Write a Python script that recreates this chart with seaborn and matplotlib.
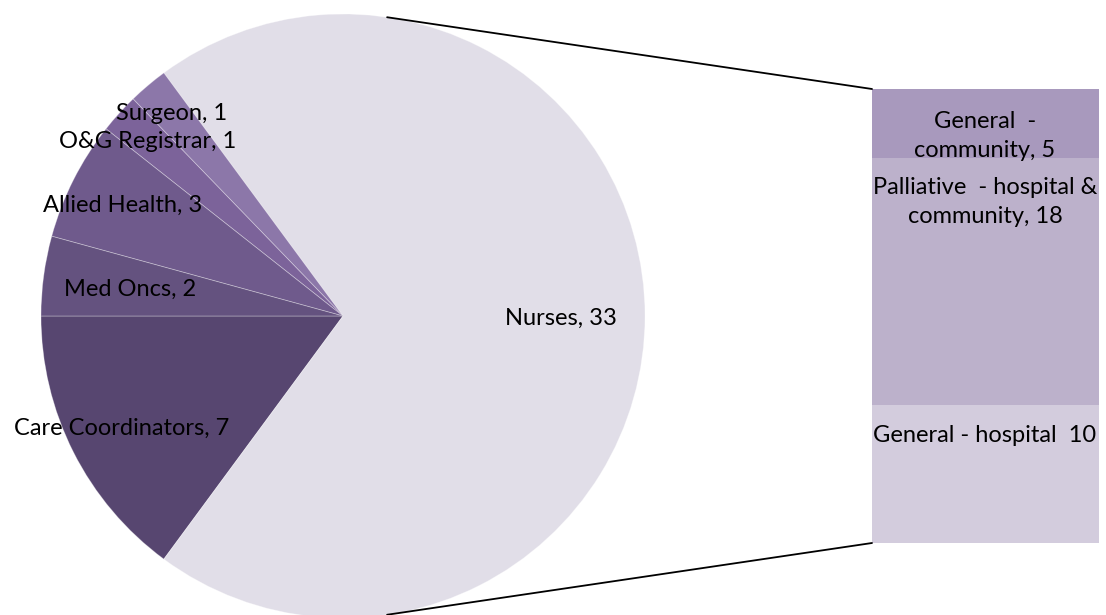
import numpy as np
import matplotlib
matplotlib.use('Agg')
import matplotlib.pyplot as plt
from matplotlib.patches import ConnectionPatch
import seaborn as sns

sns.set_style('white')
plt.rcParams['font.family'] = ['Lato', 'DejaVu Sans']

# main pie (counter-clockwise from 9 o'clock)
pie_labels = ['Care Coordinators', 'Nurses', 'Surgeon', 'O&G Registrar', 'Allied Health', 'Med Oncs']
pie_values = [7, 33, 1, 1, 3, 2]
pie_colors = ['#574670', '#e1dee8', '#8c77a9', '#7c639a', '#6f5a8c', '#64527f']

# breakdown of nurses (bottom to top)
bar_labels = ['General - hospital  10', 'Palliative  - hospital &\ncommunity, 18', 'General  -\ncommunity, 5']
bar_values = [10, 18, 5]
bar_colors = ['#d3ccdd', '#bcb1cb', '#a899bd']

W, H = 1106, 615
fig = plt.figure(figsize=(W / 100, H / 100), dpi=100)

# pie axes, centre (343,316) radius 302 px
cx, cy, r = 343, 316, 302
ax = fig.add_axes([(cx - r) / W, (H - cy - r) / H, 2 * r / W, 2 * r / H])
ax.pie(pie_values, colors=pie_colors, startangle=180, counterclock=True,
       radius=1, wedgeprops=dict(edgecolor=(1, 1, 1, 0.35), linewidth=0.6))
ax.set_xlim(-1, 1)
ax.set_ylim(-1, 1)
ax.set_aspect('auto')
ax.axis('off')

# stacked bar axes
bx0, by0, bx1, by1 = 872, 89, 1099, 543
bax = fig.add_axes([bx0 / W, (H - by1) / H, (bx1 - bx0) / W, (by1 - by0) / H])
bottom = 0
for v, c in zip(bar_values, bar_colors):
    bax.bar(0, v, width=1, bottom=bottom, color=c, linewidth=0)
    bottom += v
bax.set_xlim(-0.5, 0.5)
bax.set_ylim(0, sum(bar_values))
bax.axis('off')

# connector lines (tangent to pie)
ang = np.deg2rad(81.6)
for sgn, yb in [(1, sum(bar_values)), (-1, 0)]:
    con = ConnectionPatch(xyA=(np.cos(ang), sgn * np.sin(ang)), coordsA=ax.transData,
                          xyB=(-0.5, yb), coordsB=bax.transData,
                          color='black', linewidth=1.3)
    fig.add_artist(con)

fs = 17
def put(x, y, s, **kw):
    fig.text(x / W, 1 - y / H, s, ha='center', va='center', fontsize=fs, color='black', **kw)

put(172, 114, 'Surgeon, 1')
put(148, 141, 'O&G Registrar, 1')
put(123, 205, 'Allied Health, 3')
put(130, 289, 'Med Oncs, 2')
put(122, 428, 'Care Coordinators, 7')
put(561, 318, 'Nurses, 33')

put(985, 136, bar_labels[2], linespacing=1.45)
put(985, 202, bar_labels[1], linespacing=1.45)
put(985, 435, bar_labels[0])

fig.savefig('out.png', dpi=100)
